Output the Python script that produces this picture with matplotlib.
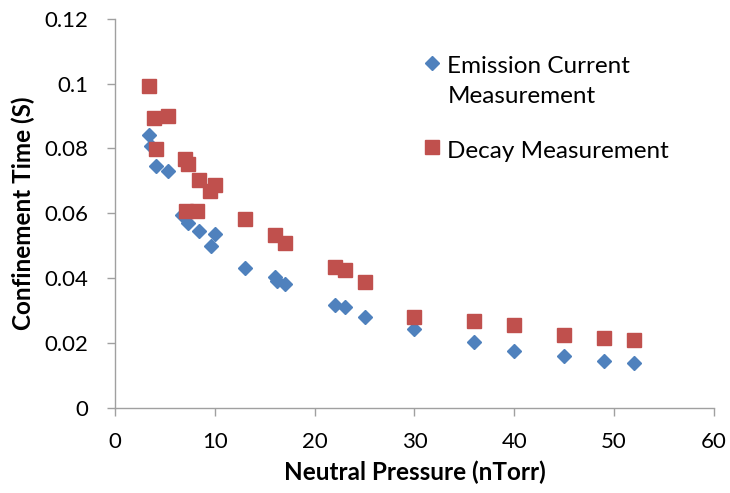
import matplotlib
matplotlib.use("Agg")
import matplotlib.pyplot as plt
from matplotlib.lines import Line2D

# Emission current measurement (diamonds)
emission_pressure = [3.4, 3.6, 4.1, 5.3, 6.7, 7.3, 8.4, 10.0, 9.6, 13.0, 16.0, 16.2, 17.0,
                     22.0, 23.0, 25.0, 30.0, 36.0, 40.0, 45.0, 49.0, 52.0]
emission_time = [0.0841, 0.0808, 0.0746, 0.0731, 0.0594, 0.0571, 0.0545, 0.0535, 0.0500,
                 0.0431, 0.0402, 0.0390, 0.0380, 0.0317, 0.0310, 0.0280, 0.0243, 0.0203,
                 0.0176, 0.0159, 0.0144, 0.0136]

# Decay measurement (squares)
decay_pressure = [3.4, 3.9, 5.3, 4.1, 7.0, 7.3, 8.4, 10.0, 9.5, 7.1, 8.2, 13.0, 16.0, 17.0,
                  22.0, 23.0, 25.0, 30.0, 36.0, 40.0, 45.0, 49.0, 52.0]
decay_time = [0.0993, 0.0893, 0.0900, 0.0799, 0.0767, 0.0751, 0.0703, 0.0686, 0.0670,
              0.0607, 0.0607, 0.0582, 0.0534, 0.0509, 0.0433, 0.0425, 0.0389, 0.0281,
              0.0267, 0.0254, 0.0224, 0.0214, 0.0210]

x_ticks = [0, 10, 20, 30, 40, 50, 60]
y_ticks = [0, 0.02, 0.04, 0.06, 0.08, 0.1, 0.12]
y_tick_labels = ["0", "0.02", "0.04", "0.06", "0.08", "0.1", "0.12"]

series_labels = ["Emission Current\nMeasurement", "Decay Measurement"]

plt.rcParams["font.family"] = ["Lato", "DejaVu Sans"]

fig = plt.figure(figsize=(7.30, 4.93), dpi=100)
ax = fig.add_axes([0.1575, 0.1734, 0.8205, 0.7881])

blue = "#4F81BD"
red = "#C0504D"
axis_grey = "#A0A0A0"

ax.plot(emission_pressure, emission_time, linestyle="none", marker="D",
        markersize=7, color=blue, zorder=3)
ax.plot(decay_pressure, decay_time, linestyle="none", marker="s",
        markersize=10, color=red, zorder=4)

ax.set_xlim(0, 60)
ax.set_ylim(0, 0.12)
ax.set_xticks(x_ticks)
ax.set_yticks(y_ticks)
ax.set_yticklabels(y_tick_labels)

for side in ("top", "right"):
    ax.spines[side].set_visible(False)
for side in ("left", "bottom"):
    ax.spines[side].set_color(axis_grey)
    ax.spines[side].set_linewidth(1.0)
ax.tick_params(axis="both", direction="out", length=5.8, width=1.0, color=axis_grey,
               labelsize=16, labelcolor="black")
ax.tick_params(axis="y", pad=13.5)
ax.tick_params(axis="x", pad=12)

ax.set_xlabel("Neutral Pressure (nTorr)", fontsize=17.5, fontweight="bold")
ax.xaxis.label.set_va("baseline")
ax.xaxis.set_label_coords(0.5, (407.5 - 480) / 388.5)

ax.set_ylabel("Confinement Time (S)", fontsize=17.5, fontweight="bold")
ax.yaxis.label.set_va("center")
ax.yaxis.set_label_coords((23 - 115) / 599.0, 0.5)

# Legend entries: key marker beside the first line of each label.
# Text positions are the baseline of each label's last line.
legend_rows = [
    (blue, "D", 7, 0.8728, 0.7905),
    (red, "s", 10, 0.7012, 0.6789),
]
for (color, marker, size, key_y, text_y), label in zip(legend_rows, series_labels):
    fig.add_artist(Line2D([0.5914], [key_y], transform=fig.transFigure,
                          linestyle="none", marker=marker, markersize=size, color=color))
    fig.text(0.6127, text_y, label, fontsize=17.5, va="baseline", ha="left",
             linespacing=1.55)

fig.savefig("out.png", dpi=100)
